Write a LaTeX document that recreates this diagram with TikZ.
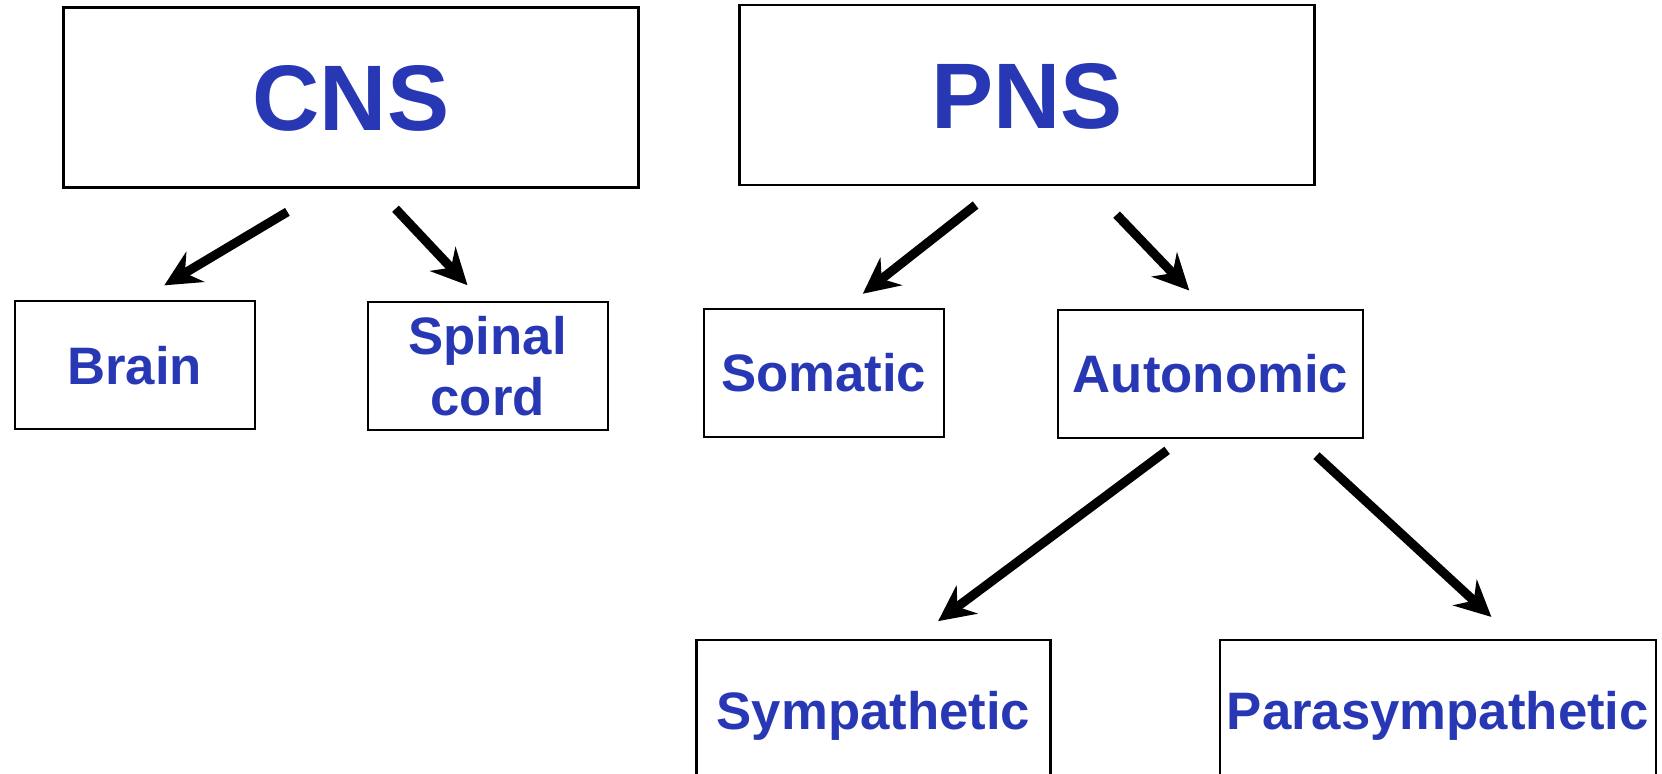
\documentclass[tikz,border=0pt]{standalone}
\usepackage{fontspec}
\setmainfont{Liberation Sans}
\usepackage{xcolor}
\usepackage{tikz}
\usetikzlibrary{positioning, arrows.meta, calc}

\definecolor{labelblue}{RGB}{40,56,180}

\tikzset{
    topbox/.style={draw, rectangle, line width=0.6pt, text=labelblue,
        font=\fontsize{26.5}{30}\selectfont\bfseries,
        minimum width=5.75cm, minimum height=1.8cm, text height=0.67cm, text depth=0pt},
    subbox/.style={draw, rectangle, line width=0.6pt, text=labelblue,
        font=\fontsize{15}{17.5}\selectfont\bfseries,
        minimum width=2.4cm, minimum height=1.28cm},
    oneline/.style={text height=0.377cm, text depth=0pt},
    branch/.style={line width=2.6pt, -{Stealth[length=0.36cm, width=0.35cm, inset=0.12cm]}}
}

\begin{document}
\begin{tikzpicture}

    % 0. Page frame, same proportions as the slide
    \useasboundingbox (0,0) rectangle (16.62,-7.74);

    % 1. Top level boxes
    \node[topbox] (cns) at (3.51, -0.975) {CNS};
    \node[topbox] (pns) at (10.27, -0.95) {PNS};

    % 2. Second row
    \node[subbox, oneline] (brain) at (1.346, -3.652) {Brain};
    \node[subbox, align=center] (spinal) at (4.876, -3.662) {Spinal\\cord};
    \node[subbox, oneline] (somatic) at (8.236, -3.726) {Somatic};
    \node[subbox, oneline, minimum width=3.05cm] (auto) at (12.105, -3.737) {Autonomic};

    % 3. Third row (cut off by the bottom edge)
    \node[subbox, oneline, minimum width=3.54cm, minimum height=1.4cm] (symp) at (8.735, -7.102) {Sympathetic};
    \node[subbox, oneline, inner xsep=1pt, minimum width=4.36cm, minimum height=1.4cm] (para) at (14.379, -7.102) {Parasympathetic};

    % 4. Arrows, leaving a gap to each box
    \draw[branch] ($(cns.south)+(-0.636,-0.233)$) -- ($(brain.north)+(0.297,0.148)$);
    \draw[branch] ($(cns.south)+(0.445,-0.202)$) -- ($(spinal.north)+(-0.201,0.159)$);
    \draw[branch] ($(pns.south)+(-0.514,-0.190)$) -- ($(somatic.north)+(0.392,0.138)$);
    \draw[branch] ($(pns.south)+(0.896,-0.286)$) -- ($(auto.north)+(-0.212,0.181)$);
    \draw[branch] ($(auto.south)+(-0.434,-0.116)$) -- ($(symp.north)+(0.646,0.180)$);
    \draw[branch] ($(auto.south)+(1.060,-0.169)$) -- ($(para.north)+(0.535,0.222)$);

\end{tikzpicture}
\end{document}
